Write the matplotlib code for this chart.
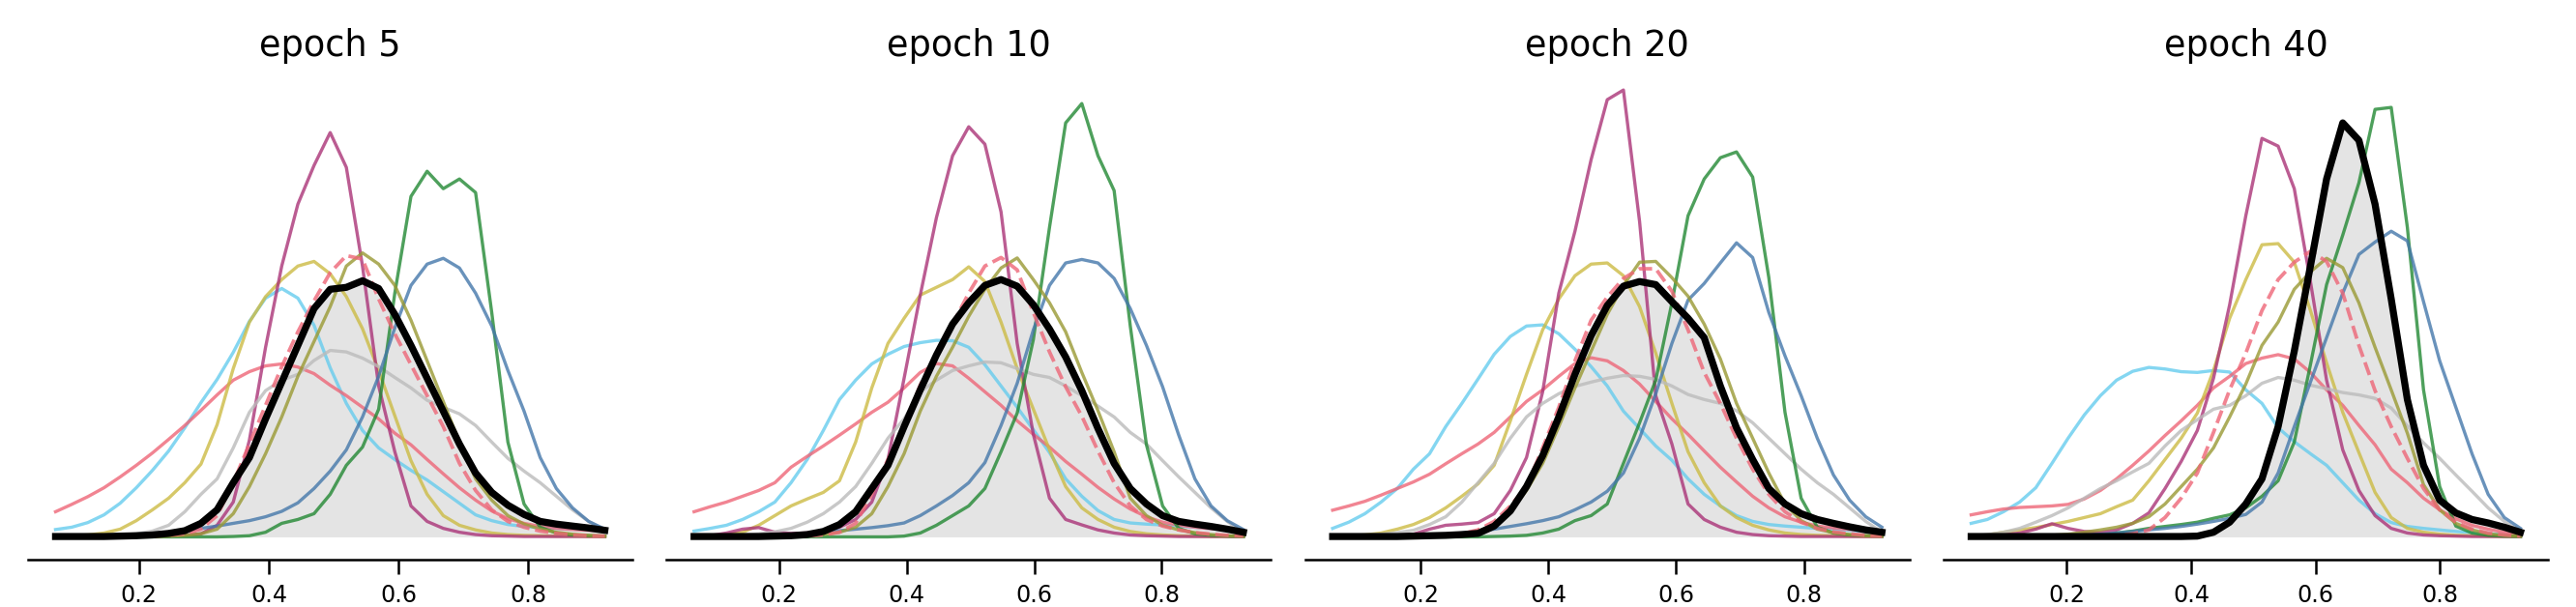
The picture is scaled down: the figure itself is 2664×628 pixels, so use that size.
import numpy as np
import matplotlib
matplotlib.use("Agg")
import matplotlib.pyplot as plt

epochs = [5, 10, 20, 40]
x_ticks = [0.2, 0.4, 0.6, 0.8]
# support of the kde in each panel (min / max of the data)
x_lo = [0.0715, 0.0666, 0.0624, 0.0469]
x_hi = [0.918, 0.928, 0.922, 0.929]
n_pts = 35

cyan = [
    [19,25,37,57,87,127,172,222,282,347,407,477,557,617,642,617,547,437,345,275,230,200,172,147,117,87,57,42,32,27,24,22,20,19,17],
    [15,22,30,45,65,90,140,200,275,355,405,447,472,492,502,508,507,490,445,390,335,277,218,150,105,68,45,36,33,31,28,25,21,18,15],
    [22,38,60,90,125,175,215,285,345,408,472,518,545,548,525,485,440,390,325,280,235,198,150,110,80,55,40,32,28,25,22,20,17,14,12],
    [35,45,65,90,127,190,255,315,365,405,428,438,434,427,425,430,426,380,345,282,246,215,185,140,95,60,37,27,22,18,14,11,8,6,5],
]
red = [
    [65,84,104,127,155,185,217,252,288,327,367,405,427,442,447,439,422,392,365,335,305,268,238,200,163,127,95,67,47,35,27,22,19,17,15],
    [65,78,90,105,120,140,180,208,235,263,292,322,348,385,425,448,442,410,375,340,300,265,232,195,162,128,98,72,52,38,30,25,21,18,15],
    [69,80,92,108,125,142,162,189,215,240,270,310,350,380,415,448,463,455,430,395,350,305,265,222,180,142,105,75,52,38,28,23,19,17,15],
    [57,65,72,76,78,80,84,98,120,150,185,222,262,300,340,385,415,448,462,471,460,425,380,340,288,238,175,140,100,70,47,30,20,12,7],
]
yellow = [
    [2,3,5,10,20,42,70,100,140,188,290,435,555,621,665,700,712,680,621,538,430,313,197,110,55,30,18,10,6,4,3,2,2,1,1],
    [2,3,6,12,30,55,80,98,115,145,245,385,500,565,625,645,665,698,660,555,435,330,225,130,75,45,25,14,8,5,3,2,1,1,1],
    [2,3,5,10,20,32,50,75,105,137,185,300,420,535,615,675,705,708,675,595,475,345,220,140,80,50,30,18,10,6,4,3,2,1,1],
    [2,5,12,18,24,32,40,50,60,78,95,145,200,255,320,430,565,665,755,758,710,585,450,322,218,115,50,22,12,7,4,3,2,1,1],
]
purple = [
    [1,1,1,1,1,1,1,2,4,8,30,90,250,490,700,860,960,1045,955,700,390,220,80,40,22,12,6,3,2,1,1,1,1,1,1],
    [1,3,10,20,24,12,9,10,14,25,45,90,200,410,625,825,985,1060,1015,840,500,265,100,45,31,18,10,5,3,2,1,1,1,1,1],
    [1,1,2,3,4,7,20,30,33,37,60,120,205,375,630,790,975,1130,1155,815,365,240,85,45,25,12,6,3,2,1,1,1,1,1,1],
    [1,2,5,10,20,34,22,14,12,18,35,62,125,195,275,410,600,830,1030,1010,900,660,405,225,120,55,22,10,5,3,2,1,1,1,1],
]
grey = [
    [2,2,3,4,5,8,15,30,65,110,150,230,322,378,405,420,456,482,478,462,440,412,385,353,335,318,288,245,203,170,140,105,70,40,18],
    [1,2,3,5,8,13,22,38,60,90,130,190,255,305,375,405,430,442,452,450,435,420,412,390,365,338,310,270,240,197,155,115,75,40,10],
    [1,2,4,7,11,17,32,52,90,140,190,255,310,345,370,389,400,410,417,415,407,390,368,355,345,326,295,255,215,175,140,110,75,40,12],
    [2,6,12,22,38,55,75,100,125,145,168,190,235,275,303,330,340,365,397,412,405,392,383,373,367,358,333,287,243,203,160,118,75,40,12],
]
green = [
    [0,0,0,0,0,0,0,0,0,0,0,1,3,12,35,45,60,110,185,232,330,630,880,945,900,925,890,580,245,85,25,10,5,3,2],
    [0,0,0,0,0,0,0,0,0,0,0,0,0,2,10,30,55,80,125,220,320,510,800,1070,1120,985,895,545,238,80,22,8,4,2,1],
    [0,0,0,0,0,0,0,0,0,0,1,2,4,10,20,42,55,85,190,295,405,605,830,925,980,995,930,670,322,100,25,10,5,3,2],
    [0,0,0,0,0,0,0,1,3,10,15,22,27,32,38,48,57,75,105,145,245,445,652,780,915,1105,1110,800,380,130,28,10,4,2,1],
]
blue = [
    [1,1,2,3,5,7,9,12,16,22,28,35,42,52,66,88,125,170,225,310,415,540,650,705,720,695,630,545,430,325,205,125,75,40,20],
    [0,0,1,2,3,4,6,8,12,16,20,24,29,36,55,80,107,140,192,288,397,535,650,708,717,708,668,590,495,388,263,150,80,42,19],
    [0,0,0,0,1,2,4,6,10,14,20,27,34,42,52,70,90,118,165,255,370,500,612,655,708,760,722,580,468,365,255,160,95,52,25],
    [0,0,0,0,0,1,2,4,7,10,14,18,22,27,33,40,48,58,90,165,285,400,515,630,730,762,790,765,608,455,335,215,110,50,22],
]
olive = [
    [0,0,0,0,0,1,1,2,4,8,20,60,130,215,310,415,505,595,700,734,705,650,560,455,350,245,150,95,55,33,20,12,7,4,2],
    [0,0,0,0,0,0,1,3,6,12,25,60,130,215,325,415,490,570,640,695,721,665,605,530,425,326,220,100,55,30,18,11,6,3,2],
    [0,0,0,0,1,1,2,4,8,15,30,65,120,190,285,385,480,575,650,710,712,670,622,550,460,345,255,165,85,42,20,11,6,3,2],
    [0,0,0,1,2,4,7,12,18,25,35,52,85,130,175,230,310,395,495,555,640,685,720,696,605,490,380,268,135,70,35,18,8,4,2],
]
dashed = [
    [0,0,0,0,0,1,2,4,8,20,55,140,240,340,440,530,610,683,727,718,615,525,445,365,285,190,120,70,40,25,15,9,5,3,2],
    [0,0,0,0,0,0,1,2,5,12,35,110,200,283,393,472,550,630,700,722,690,580,478,388,312,222,140,80,45,28,18,11,7,4,2],
    [0,0,0,0,0,1,2,4,8,18,40,80,130,230,335,455,560,620,668,693,693,635,535,425,345,255,175,110,65,38,22,13,8,4,2],
    [0,0,0,0,0,0,0,1,2,4,8,18,50,100,165,270,380,475,585,665,710,738,712,630,495,378,285,203,125,70,38,20,10,5,2],
]
black = [
    [1,1,1,1,2,3,5,9,16,35,70,140,205,305,400,495,590,640,645,662,642,575,495,410,325,240,165,115,82,58,40,33,28,23,17],
    [1,1,1,1,1,2,3,6,14,32,65,125,185,285,380,470,550,605,650,665,648,600,537,465,378,280,190,125,85,55,40,33,27,20,12],
    [1,1,1,1,1,2,3,4,6,9,28,67,130,210,310,420,520,598,648,660,652,608,565,515,390,282,200,125,85,60,45,35,26,18,12],
    [1,1,1,1,1,1,1,1,1,1,1,1,1,1,2,12,38,85,150,285,480,700,925,1070,1025,860,615,355,185,95,62,45,36,25,12],
]

runs = [cyan, red, yellow, purple, grey, green, blue, olive]
colors = ['#66CCEE', '#EE6677', '#CCBB44', '#AA3377', '#BBBBBB', '#228833', '#4477AA', '#999933']

fig, axes = plt.subplots(1, 4, figsize=(8.88, 2.0934), dpi=300, sharey=True)
fig.subplots_adjust(left=0.0109, right=0.9891, bottom=0.0787, top=0.8885, wspace=0.0568)

for k, ax in enumerate(axes):
    x = np.linspace(x_lo[k], x_hi[k], n_pts)
    for run, c in zip(runs, colors):
        ax.plot(x, np.array(run[k]) / 100, color=c, alpha=0.8, lw=0.8)
    ax.plot(x, np.array(dashed[k]) / 100, color='#EE6677', alpha=0.8, lw=0.9, ls='--')
    yb = np.array(black[k]) / 100
    ax.fill_between(x, 0, yb, color='#e4e4e4', lw=0, zorder=0)
    ax.plot(x, yb, color='black', lw=1.75, zorder=5)

    ax.set_title(f'epoch {epochs[k]}', fontsize=8.8, pad=3)
    ax.set_xticks(x_ticks)
    ax.set_yticks([])
    ax.tick_params(axis='x', labelsize=5.7, width=0.6, length=3.5, pad=2.5)
    for s in ['left', 'top', 'right']:
        ax.spines[s].set_visible(False)
    ax.spines['bottom'].set_linewidth(0.6)

fig.savefig('out.png', dpi=300)
